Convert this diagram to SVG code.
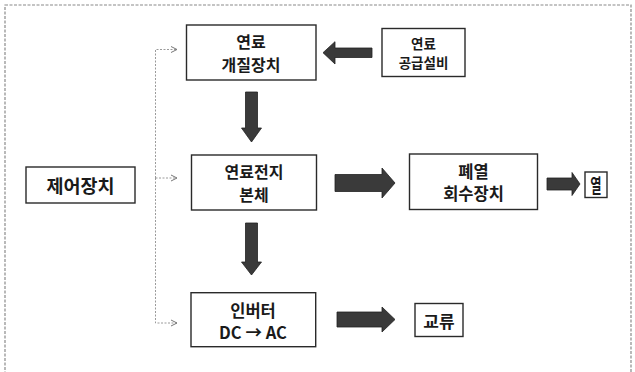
<svg xmlns="http://www.w3.org/2000/svg" width="635" height="372" viewBox="0 0 635 372">
<style>
.box{fill:#fff;stroke:#2a2a2a;stroke-width:1.4}
.t{font-family:"Noto Sans CJK KR","Liberation Sans",sans-serif;font-weight:bold;fill:#1a1a1a;text-anchor:middle;dominant-baseline:central}
.big{fill:#3a3a3a;stroke:#222;stroke-width:0.8}
.ctl{fill:none;stroke:#9a9a9a;stroke-width:1;stroke-dasharray:2 1.5}
</style>
<defs>
<marker id="ah" viewBox="0 0 8 8" refX="7" refY="4" markerWidth="8" markerHeight="8" markerUnits="userSpaceOnUse" orient="auto">
<path d="M1,1 L7,4 L1,7" fill="none" stroke="#777" stroke-width="1"/>
</marker>
</defs>
<rect x="5" y="5" width="626" height="380" fill="none" stroke="#8a8a8a" stroke-width="1.2" stroke-dasharray="3 1.5"/>
<g id="connectors">
<path class="ctl" d="M155.5,178 V49.5 H177" marker-end="url(#ah)"/>
<path class="ctl" d="M155.5,178 H177" marker-end="url(#ah)"/>
<path class="ctl" d="M155.5,178 V323 H177" marker-end="url(#ah)"/>
<polygon class="big" points="323,52.7 335,41.7 335,48 372,48 372,57.5 335,57.5 335,64"/>
<polygon class="big" points="245.5,92 257.5,92 257.5,128 261.5,128 251.5,142 241.5,128 245.5,128"/>
<polygon class="big" points="245.5,223 257.5,223 257.5,262 261.5,262 251.5,275 241.5,262 245.5,262"/>
<polygon class="big" points="335,174.5 382,174.5 382,168 395,183 382,198 382,191.5 335,191.5"/>
<polygon class="big" points="547,178 572,178 572,172.5 580,184 572,195.5 572,190 547,190"/>
<polygon class="big" points="337,312 382,312 382,307 395,319.5 382,332 382,327 337,327"/>
</g>
<g id="n1"><rect class="box" x="186.5" y="25" width="129.5" height="55"/><text class="t" font-size="16"><tspan x="251" y="41.2">연료</tspan><tspan x="251" y="63.8">개질장치</tspan></text></g>
<g id="n2"><rect class="box" x="382" y="28.5" width="83" height="48"/><text class="t" font-size="13.5"><tspan x="423.5" y="43">연료</tspan><tspan x="423.5" y="62">공급설비</tspan></text></g>
<g id="n3"><rect class="box" x="26" y="167" width="109" height="36"/><text class="t" x="80.5" y="185" font-size="18.5">제어장치</text></g>
<g id="n4"><rect class="box" x="191.5" y="155" width="125" height="55"/><text class="t" font-size="16"><tspan x="254" y="171.2">연료전지</tspan><tspan x="254" y="193.8">본체</tspan></text></g>
<g id="n5"><rect class="box" x="409.5" y="154" width="128" height="55.5"/><text class="t" font-size="16.5"><tspan x="473.5" y="170.5">폐열</tspan><tspan x="473.5" y="193">회수장치</tspan></text></g>
<g id="n6"><rect class="box" x="585" y="172" width="22" height="25.5"/><text class="t" x="0" y="0" font-size="17" transform="translate(596,184.7) scale(0.72,1.15)">열</text></g>
<g id="n7"><rect class="box" x="191" y="292.7" width="124.7" height="54"/><text class="t" font-size="16.5"><tspan x="253" y="309.5">인버터</tspan><tspan x="253" y="332">DC → AC</tspan></text></g>
<g id="n8"><rect class="box" x="415" y="303.5" width="48" height="33"/><text class="t" x="439" y="320.5" font-size="17">교류</text></g>
</svg>
